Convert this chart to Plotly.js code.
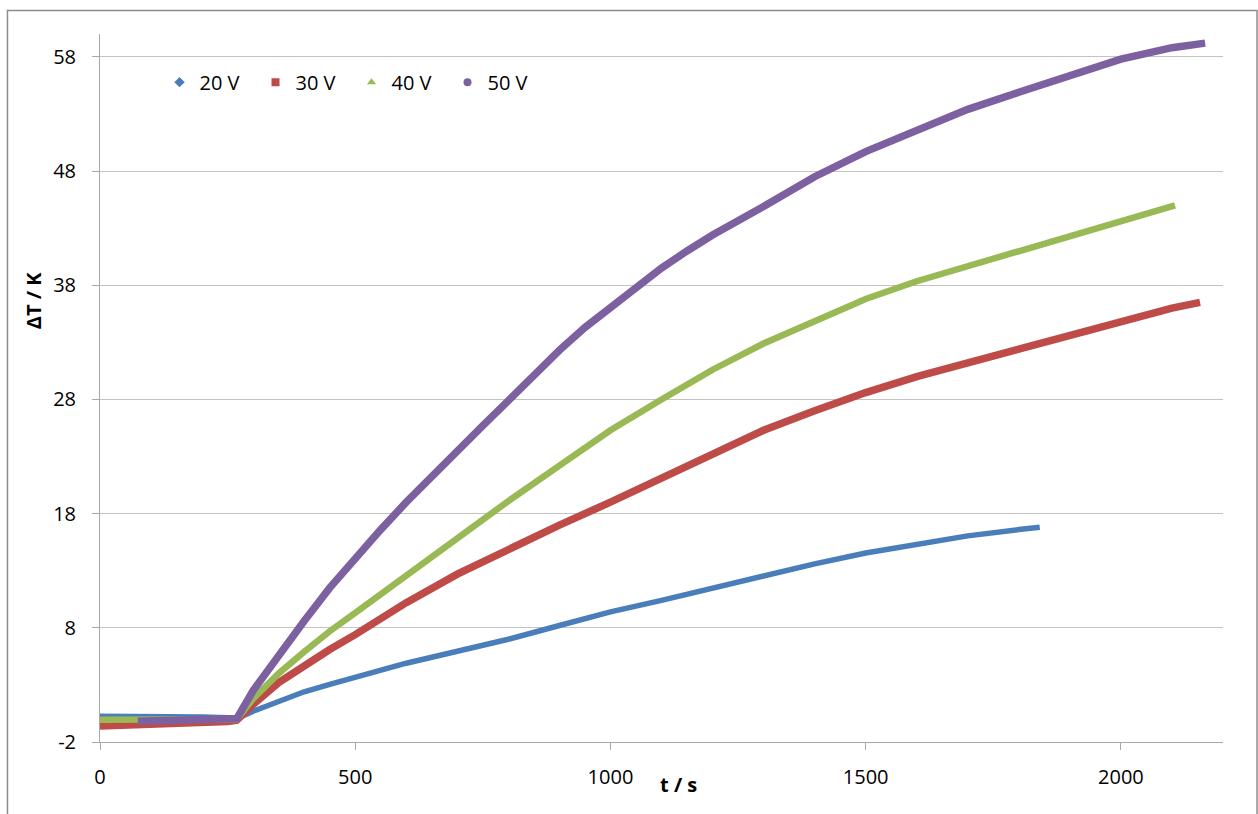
<!DOCTYPE html>
<html>
<head>
<meta charset="utf-8">
<script src="https://cdn.plot.ly/plotly-3.0.1.min.js"></script>
<style>html,body{margin:0;padding:0;background:#fff;}#chart{width:1258px;height:814px;}</style>
</head>
<body>
<div id="chart"></div>
<script>
// Series names
const seriesNames = ["20 V", "30 V", "40 V", "50 V"];

// 20 V (blue)
const t20 = [0, 50, 100, 150, 200, 250, 268, 300, 350, 400, 450, 500, 600, 700, 800, 900, 1000, 1100, 1200, 1300, 1400, 1500, 1600, 1700, 1800, 1841];
const dT20 = [0.25, 0.25, 0.22, 0.2, 0.18, 0.12, 0.05, 0.7, 1.6, 2.4, 3.05, 3.7, 4.9, 5.95, 7.0, 8.2, 9.4, 10.4, 11.5, 12.6, 13.6, 14.55, 15.35, 16.05, 16.6, 16.8];

// 30 V (red)
const t30 = [0, 50, 100, 150, 200, 250, 268, 300, 350, 400, 450, 500, 600, 700, 800, 900, 1000, 1100, 1200, 1300, 1400, 1500, 1600, 1700, 1800, 1900, 2000, 2100, 2155];
const dT30 = [-0.6, -0.55, -0.5, -0.42, -0.35, -0.2, -0.1, 1.3, 3.2, 4.7, 6.1, 7.4, 10.2, 12.7, 14.9, 17.0, 19.0, 21.1, 23.3, 25.3, 27.0, 28.6, 30.0, 31.2, 32.4, 33.7, 34.9, 36.0, 36.5];

// 40 V (green)
const t40 = [0, 50, 100, 150, 200, 250, 268, 300, 350, 400, 450, 500, 600, 700, 800, 900, 1000, 1100, 1200, 1300, 1400, 1500, 1600, 1700, 1800, 1900, 2000, 2106];
const dT40 = [-0.05, -0.05, -0.05, -0.03, 0.0, 0.0, 0.0, 1.8, 4.0, 5.9, 7.7, 9.3, 12.6, 15.9, 19.1, 22.2, 25.3, 28.0, 30.6, 32.9, 34.9, 36.8, 38.35, 39.65, 40.9, 42.3, 43.6, 45.0];

// 50 V (purple)
const t50 = [74, 150, 200, 255, 268, 300, 350, 400, 450, 500, 550, 600, 650, 700, 750, 800, 850, 900, 950, 1000, 1050, 1100, 1150, 1200, 1300, 1400, 1500, 1600, 1700, 1800, 1900, 2000, 2100, 2165];
const dT50 = [-0.18, -0.12, -0.05, 0.0, 0.05, 2.5, 5.6, 8.6, 11.5, 14.1, 16.6, 19.0, 21.3, 23.5, 25.7, 27.9, 30.2, 32.3, 34.3, 36.1, 37.9, 39.5, 41.0, 42.4, 44.9, 47.5, 49.7, 51.6, 53.4, 54.9, 56.4, 57.8, 58.8, 59.2];

// Axis ticks
const xTicks = [0, 500, 1000, 1500, 2000];
const yTicks = [-2, 8, 18, 28, 38, 48, 58];

const colors = ["#4A7EBB", "#BE4B48", "#98B954", "#7D60A0"];
const widths = [5.5, 7.5, 6.5, 7.5];
const symbols = ["diamond", "square", "triangle-up", "circle"];
const xs = [t20, t30, t40, t50];
const ys = [dT20, dT30, dT40, dT50];

const traces = [];
for (let i = 0; i < 4; i++) {
  traces.push({
    x: xs[i], y: ys[i], type: "scatter", mode: "lines",
    line: {color: colors[i], width: widths[i], shape: "linear"},
    name: seriesNames[i], showlegend: false, hoverinfo: "x+y"
  });
}
for (let i = 0; i < 4; i++) {
  traces.push({
    x: [null], y: [null], type: "scatter", mode: "markers",
    marker: {color: colors[i], size: 8, symbol: symbols[i]},
    name: seriesNames[i], showlegend: true
  });
}

const FONT = "Open Sans, Liberation Sans, sans-serif";
const gridCol = "#c3c3c3";
const axCol = "#a8a8a8";

const layout = {
  width: 1258, height: 814,
  margin: {l: 100, r: 35, t: 34, b: 72},
  paper_bgcolor: "#ffffff", plot_bgcolor: "#ffffff",
  font: {family: FONT, size: 20, color: "#000"},
  showlegend: true,
  legend: {
    orientation: "h", x: 0.053, xanchor: "left", y: 0.932, yanchor: "middle",
    font: {family: FONT, size: 20, color: "#000"},
    entrywidth: 51, entrywidthmode: "pixels", bgcolor: "rgba(0,0,0,0)",
    itemwidth: 30, traceorder: "normal"
  },
  xaxis: {
    range: [0, 2200], tickvals: xTicks, ticktext: xTicks.map(String),
    showgrid: false, zeroline: false, showline: true, linecolor: axCol, linewidth: 1,
    ticks: "outside", ticklen: 7, tickcolor: axCol, ticklabelstandoff: 10,
    tickfont: {family: FONT, size: 20, color: "#000"}
  },
  yaxis: {
    range: [-2, 60], tickvals: yTicks, ticktext: yTicks.map(String),
    showgrid: true, gridcolor: gridCol, gridwidth: 1, zeroline: false,
    showline: true, linecolor: axCol, linewidth: 1,
    ticks: "outside", ticklen: 7, tickcolor: axCol, ticklabelstandoff: 12,
    tickfont: {family: FONT, size: 20, color: "#000"}
  },
  annotations: [
    {text: "<b>t / s</b>", xref: "paper", yref: "paper", x: 0.515, y: -0.0607,
     xanchor: "center", yanchor: "middle", showarrow: false, font: {family: FONT, size: 20, color: "#000"}},
    {text: "<b>ΔT / K</b>", xref: "paper", yref: "paper", x: -0.0597, y: 0.624,
     xanchor: "center", yanchor: "middle", showarrow: false, textangle: -90, font: {family: FONT, size: 20, color: "#000"}}
  ],
  shapes: [
    {type: "rect", xref: "paper", yref: "paper", x0: -0.0824, x1: 1.0303, y0: -0.13, y1: 1.0332,
     line: {color: "#8c8c8c", width: 1.5}, fillcolor: "rgba(0,0,0,0)", layer: "below"}
  ]
};

Plotly.newPlot("chart", traces, layout, {displayModeBar: false, staticPlot: true});
</script>
</body>
</html>
